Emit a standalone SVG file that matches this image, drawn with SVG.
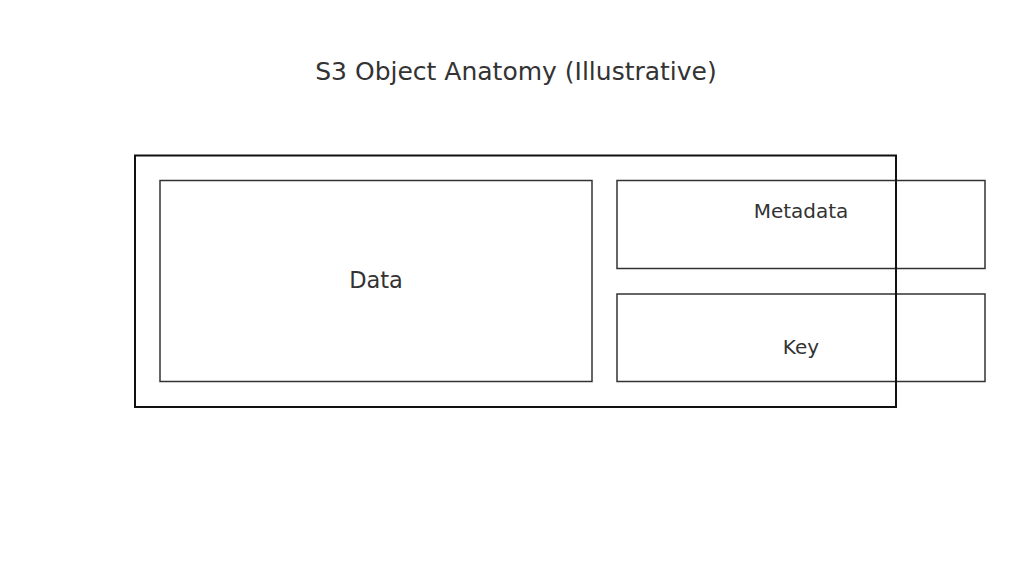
<svg xmlns="http://www.w3.org/2000/svg" width="1024" height="573" viewBox="0 0 1024 573">
<style>
text{font-family:"DejaVu Sans",sans-serif;fill:#333;text-anchor:middle}
.box{fill:none;stroke:#333;stroke-width:1.5}
.outer{fill:none;stroke:#111;stroke-width:2}
</style>
<rect width="1024" height="573" fill="#fff"/>
<text x="516" y="80" font-size="25">S3 Object Anatomy (Illustrative)</text>
<g id="data"><rect class="box" x="160" y="180.5" width="432" height="201"/><text x="376" y="288" font-size="22.5">Data</text></g>
<g id="metadata"><rect class="box" x="617" y="180.5" width="368" height="88"/><text x="801" y="218" font-size="20">Metadata</text></g>
<g id="key"><rect class="box" x="617" y="294" width="368" height="87.5"/><text x="801" y="354" font-size="20">Key</text></g>
<g id="object"><rect class="outer" x="135" y="155.5" width="761" height="251.5"/></g>
<g id="connectors"/>
</svg>
